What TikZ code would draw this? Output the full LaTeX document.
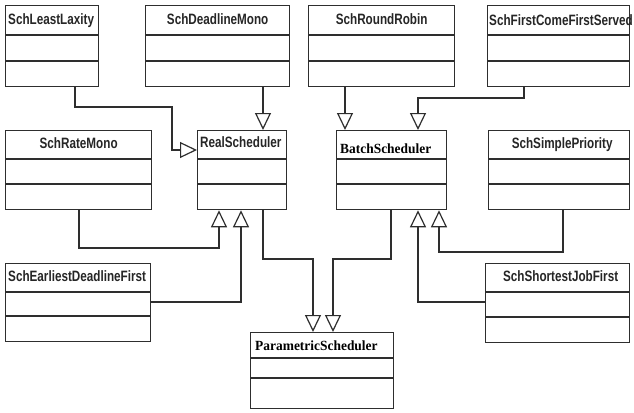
\documentclass[tikz,border=0pt]{standalone}
\usepackage{fontspec}
\usetikzlibrary{arrows.meta}
\newfontfamily\umlsans[FakeStretch=0.78]{Liberation Sans}
\newfontfamily\umlserif[FakeStretch=0.96]{Liberation Serif}
\definecolor{umlline}{HTML}{2E2E2E}

% class box with two compartment separators (offsets from the top edge)
\newcommand\umlclass[7]{%
  \node[classbox, anchor=north west, minimum width={#4-#2}, minimum height={#5-#3}] (#1) at (#2,#3) {};
  \draw[classline] ([yshift=-#6pt]#1.north west) -- ([yshift=-#6pt]#1.north east);
  \draw[classline] ([yshift=-#7pt]#1.north west) -- ([yshift=-#7pt]#1.north east);
}

\begin{document}
\begin{tikzpicture}[x=1pt, y=-1pt,
  classbox/.style={draw=umlline, line width=1.3pt, inner sep=0pt, fill=none},
  classline/.style={draw=umlline, line width=1.3pt},
  sanslabel/.style={inner sep=0pt, font=\umlsans\bfseries\fontsize{15}{17}\selectfont, text=black!85},
  seriflabel/.style={inner sep=0pt, font=\umlserif\bfseries\fontsize{14}{16}\selectfont, text=black},
  inh/.style={draw=umlline, line width=1.2pt, -{Triangle[open, length=17pt, width=16pt, line width=1.2pt]}}]

\fill[white] (0,0) rectangle (634,412);
\useasboundingbox (0,0) rectangle (634,412);

% top row
\umlclass{ll}{5}{5}{98}{86}{30}{56}
\umlclass{dm}{145}{5}{289}{86}{30}{56}
\umlclass{rr}{308}{5}{454}{86}{30}{56}
\umlclass{fc}{487}{5}{629}{86}{30}{56}
% middle row
\umlclass{rm}{5}{130}{151}{209}{29}{54}
\umlclass{rs}{197}{130}{286}{209}{29}{54}
\umlclass{bs}{336}{130}{446}{209}{29}{54}
\umlclass{sp}{488}{130}{629}{209}{29}{54}
% bottom row
\umlclass{ed}{5}{263}{150}{341}{29}{53}
\umlclass{sj}{485}{263}{629}{342}{29}{54}
\umlclass{ps}{250}{332}{393}{408}{26}{46}

% class names
\node[sanslabel, anchor=base west] (ll-name) at ([xshift=3pt, yshift=-20pt]ll.north west) {SchLeastLaxity};
\node[sanslabel, anchor=base] (dm-name) at ([yshift=-20pt]dm.north) {SchDeadlineMono};
\node[sanslabel, anchor=base] (rr-name) at ([yshift=-20pt]rr.north) {SchRoundRobin};
\node[sanslabel, anchor=base west] (fc-name) at ([xshift=2pt, yshift=-21pt]fc.north west) {SchFirstComeFirstServed};
\node[sanslabel, anchor=base] (rm-name) at ([yshift=-18pt]rm.north) {SchRateMono};
\node[sanslabel, anchor=base west] (rs-name) at ([xshift=3pt, yshift=-17pt]rs.north west) {RealScheduler};
\node[seriflabel, anchor=base west] (bs-name) at ([xshift=4pt, yshift=-23pt]bs.north west) {BatchScheduler};
\node[sanslabel, anchor=base] (sp-name) at ([xshift=3pt, yshift=-18pt]sp.north) {SchSimplePriority};
\node[sanslabel, anchor=base west] (ed-name) at ([xshift=3pt, yshift=-18pt]ed.north west) {SchEarliestDeadlineFirst};
\node[sanslabel, anchor=base] (sj-name) at ([xshift=3pt, yshift=-18pt]sj.north) {SchShortestJobFirst};
\node[seriflabel, anchor=base west] (ps-name) at ([xshift=5pt, yshift=-18pt]ps.north west) {ParametricScheduler};

% generalisations towards RealScheduler
\draw[inh] (ll.south -| 75,0) |- (172,107) |- (rs.west |- 0,150);
\draw[inh] (dm.south -| 263,0) -- (rs.north -| 263,0);
\draw[inh] (rm.south -| 79,0) |- (219,248) -- (rs.south -| 219,0);
\draw[inh] (ed.east |- 0,302) -| (rs.south -| 241,0);

% generalisations towards BatchScheduler
\draw[inh] (rr.south -| 345,0) -- (bs.north -| 345,0);
\draw[inh] (fc.south -| 524,0) |- (418,98) -- (bs.north -| 418,0);
\draw[inh] (sp.south -| 563,0) |- (439,252) -- (bs.south -| 439,0);
\draw[inh] (sj.west |- 0,302) -| (bs.south -| 418,0);

% both schedulers specialise ParametricScheduler
\draw[inh] (rs.south -| 263,0) |- (313,259) -- (ps.north -| 313,0);
\draw[inh] (bs.south -| 391,0) |- (333,259) -- (ps.north -| 333,0);

\end{tikzpicture}
\end{document}
